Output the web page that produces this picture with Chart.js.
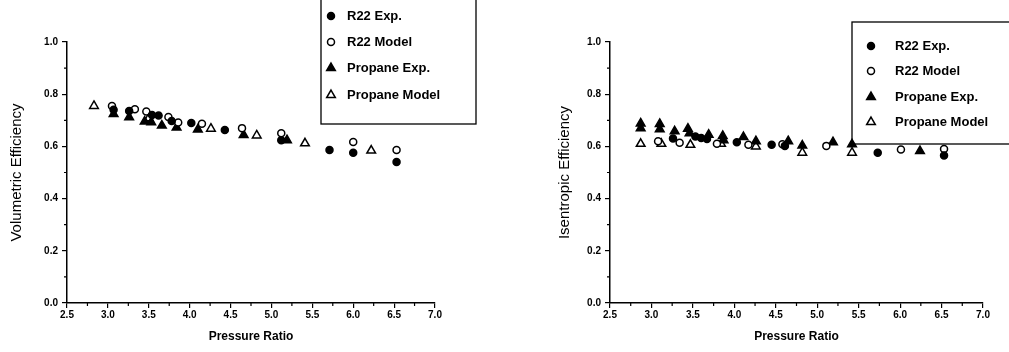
<!DOCTYPE html>
<html lang="en">
<head>
<meta charset="UTF-8">
<title>Volumetric and Isentropic Efficiency</title>
<script src="https://cdn.jsdelivr.net/npm/chart.js"></script>
<style>
  body { margin: 0; background: #fff; width: 1009px; height: 352px; overflow: hidden; position: relative; }
  canvas { position: absolute; top: 0; }
  #volChart { left: 0; }
  #isenChart { left: 540px; }
</style>
</head>
<body>
<canvas id="volChart" width="500" height="352"></canvas>
<canvas id="isenChart" width="469" height="352"></canvas>
<script>
// series labels
const seriesLabels = ['R22 Exp.', 'R22 Model', 'Propane Exp.', 'Propane Model'];

// x / y tick labels
const xTicks = [2.5, 3.0, 3.5, 4.0, 4.5, 5.0, 5.5, 6.0, 6.5, 7.0];
const yTicks = [0.0, 0.2, 0.4, 0.6, 0.8, 1.0];

// Volumetric efficiency [pressure ratio, efficiency]
const volR22Exp = [[3.07,0.740],[3.26,0.736],[3.54,0.720],[3.62,0.718],[3.78,0.697],[4.02,0.690],[4.43,0.663],[5.12,0.624],[5.71,0.586],[6.00,0.576],[6.53,0.540]];
const volR22Model = [[3.05,0.755],[3.33,0.742],[3.47,0.734],[3.74,0.713],[3.86,0.692],[4.15,0.687],[4.64,0.670],[5.12,0.650],[6.00,0.617],[6.53,0.586]];
const volPropExp = [[3.07,0.724],[3.26,0.712],[3.45,0.695],[3.53,0.693],[3.66,0.680],[3.84,0.672],[4.10,0.665],[4.66,0.644],[5.19,0.624]];
const volPropModel = [[2.83,0.755],[3.50,0.708],[4.26,0.668],[4.82,0.642],[5.41,0.612],[6.22,0.584]];

// Isentropic efficiency [pressure ratio, efficiency]
const isenR22Exp = [[3.26,0.630],[3.53,0.638],[3.60,0.632],[3.67,0.628],[4.03,0.616],[4.45,0.606],[4.61,0.602],[5.73,0.576],[6.53,0.565]];
const isenR22Model = [[3.08,0.620],[3.34,0.614],[3.79,0.610],[4.17,0.606],[4.58,0.608],[5.11,0.602],[6.01,0.588],[6.53,0.590]];
const isenPropExp = [[2.87,0.688],[2.87,0.670],[3.10,0.686],[3.10,0.666],[3.28,0.658],[3.44,0.668],[3.46,0.650],[3.69,0.645],[3.86,0.640],[3.87,0.624],[4.11,0.636],[4.26,0.620],[4.65,0.620],[4.82,0.603],[5.19,0.616],[5.42,0.608],[6.24,0.582]];
const isenPropModel = [[2.87,0.610],[3.12,0.610],[3.47,0.606],[3.84,0.610],[4.26,0.600],[4.82,0.576],[5.42,0.576]];

// marker styles for the 4 series (filled circle, open circle, filled triangle, open triangle)
const markerStyles = [
  { pointStyle: 'circle', radius: 3.5, fill: '#000' },
  { pointStyle: 'circle', radius: 3.5, fill: '#fff' },
  { pointStyle: 'triangle', radius: 5, fill: '#000' },
  { pointStyle: 'triangle', radius: 5, fill: '#fff' }
];

function toPoints(arr) {
  return arr.map(p => ({ x: p[0], y: p[1] }));
}

function makeDatasets(series) {
  return series.map((s, i) => ({
    label: seriesLabels[i],
    data: toPoints(s),
    pointStyle: markerStyles[i].pointStyle,
    pointRadius: markerStyles[i].radius,
    pointBackgroundColor: markerStyles[i].fill,
    pointBorderColor: '#000',
    pointBorderWidth: 1.5,
    showLine: false
  }));
}

function drawMarker(ctx, style, x, y) {
  const r = style.radius;
  ctx.beginPath();
  if (style.pointStyle === 'circle') {
    ctx.arc(x, y, r, 0, Math.PI * 2);
  } else {
    let rad = 0;
    ctx.moveTo(x + Math.sin(rad) * r, y - Math.cos(rad) * r);
    rad += 2 * Math.PI / 3;
    ctx.lineTo(x + Math.sin(rad) * r, y - Math.cos(rad) * r);
    rad += 2 * Math.PI / 3;
    ctx.lineTo(x + Math.sin(rad) * r, y - Math.cos(rad) * r);
    ctx.closePath();
  }
  ctx.fillStyle = style.fill;
  ctx.fill();
  ctx.strokeStyle = '#000';
  ctx.lineWidth = 1.5;
  ctx.stroke();
}

// boxed legend + minor ticks
const paperPlugin = {
  id: 'paper',
  beforeDatasetsDraw(chart, args, opts) {
    const ctx = chart.ctx;
    const b = opts.box;
    ctx.save();
    ctx.fillStyle = '#fff';
    ctx.fillRect(b[0], b[1], b[2], b[3]);
    ctx.strokeStyle = '#000';
    ctx.lineWidth = 1.3;
    ctx.strokeRect(b[0], b[1], b[2], b[3]);
    ctx.font = 'bold 13px "Liberation Sans", Arial, sans-serif';
    ctx.textBaseline = 'middle';
    seriesLabels.forEach((label, i) => {
      drawMarker(ctx, markerStyles[i], opts.markerX, opts.rows[i]);
      ctx.fillStyle = '#000';
      ctx.fillText(label, opts.textX, opts.rows[i]);
    });
    ctx.restore();
  },
  afterDraw(chart) {
    const ctx = chart.ctx;
    const xs = chart.scales.x, ys = chart.scales.y;
    ctx.save();
    ctx.strokeStyle = '#000';
    ctx.lineWidth = 1.2;
    ctx.beginPath();
    for (let i = 0; i < xTicks.length - 1; i++) {
      const px = xs.getPixelForValue((xTicks[i] + xTicks[i + 1]) / 2);
      ctx.moveTo(px, ys.bottom);
      ctx.lineTo(px, ys.bottom + 3);
    }
    for (let i = 0; i < yTicks.length - 1; i++) {
      const py = ys.getPixelForValue((yTicks[i] + yTicks[i + 1]) / 2);
      ctx.moveTo(xs.left, py);
      ctx.lineTo(xs.left - 3, py);
    }
    ctx.stroke();
    ctx.restore();
  }
};

function makeChart(id, series, yTitle, o) {
  return new Chart(document.getElementById(id), {
    type: 'scatter',
    data: { datasets: makeDatasets(series) },
    options: {
      responsive: false,
      animation: false,
      layout: { padding: { top: 42, right: o.padRight, bottom: 0, left: 0 } },
      plugins: {
        legend: { display: false },
        tooltip: { enabled: false },
        paper: o.legend
      },
      scales: {
        x: {
          type: 'linear',
          min: xTicks[0],
          max: xTicks[xTicks.length - 1],
          afterBuildTicks: s => { s.ticks = xTicks.map(v => ({ value: v })); },
          afterFit: s => { s.height = 49; },
          border: { display: true, color: '#000', width: 1.5 },
          grid: { drawOnChartArea: false, drawTicks: true, tickLength: 5, color: '#000', lineWidth: 1.2 },
          ticks: {
            padding: 1,
            color: '#000',
            font: { family: '"Liberation Sans", Arial, sans-serif', size: 10, weight: 'bold' },
            callback: v => Number(v).toFixed(1)
          },
          title: {
            display: true,
            text: 'Pressure Ratio',
            color: '#000',
            padding: { top: 0, bottom: 8 },
            font: { family: '"Liberation Sans", Arial, sans-serif', size: 12, weight: 'bold' }
          }
        },
        y: {
          type: 'linear',
          min: yTicks[0],
          max: yTicks[yTicks.length - 1],
          afterBuildTicks: s => { s.ticks = yTicks.map(v => ({ value: v })); },
          afterFit: s => { s.width = o.yWidth; },
          border: { display: true, color: '#000', width: 1.5 },
          grid: { drawOnChartArea: false, drawTicks: true, tickLength: 5, color: '#000', lineWidth: 1.2 },
          ticks: {
            padding: 4,
            color: '#000',
            font: { family: '"Liberation Sans", Arial, sans-serif', size: 10, weight: 'bold' },
            callback: v => Number(v).toFixed(1)
          },
          title: {
            display: true,
            text: yTitle,
            color: '#000',
            padding: { top: o.titlePad, bottom: 0 },
            font: { family: '"Liberation Sans", Arial, sans-serif', size: 15 }
          }
        }
      }
    },
    plugins: [paperPlugin]
  });
}

makeChart('volChart', [volR22Exp, volR22Model, volPropExp, volPropModel], 'Volumetric Efficiency', {
  yWidth: 67, padRight: 65, titlePad: 8,
  legend: { box: [321, -3, 155, 127], rows: [16, 42, 68, 95], markerX: 331, textX: 347 }
});

makeChart('isenChart', [isenR22Exp, isenR22Model, isenPropExp, isenPropModel], 'Isentropic Efficiency', {
  yWidth: 70, padRight: 26, titlePad: 16,
  legend: { box: [312, 22, 170, 122], rows: [46, 71, 97, 122], markerX: 331, textX: 355 }
});
</script>
</body>
</html>
